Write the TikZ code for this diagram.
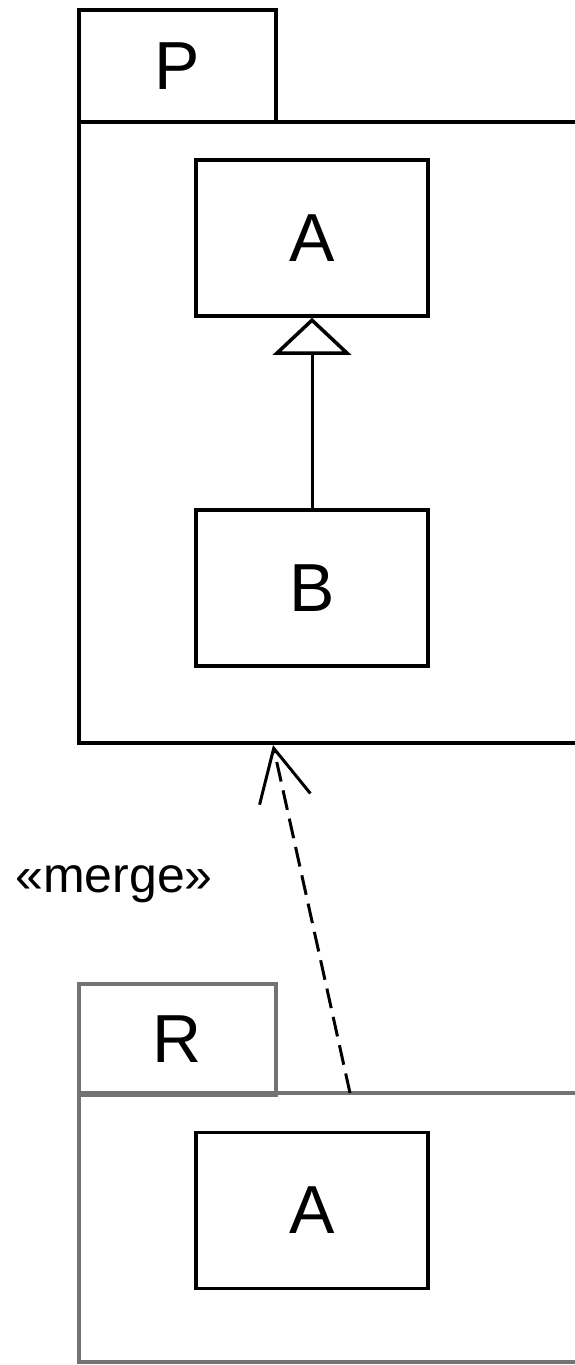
\documentclass[tikz,border=0pt]{standalone}
\usepackage{fontspec}
\setmainfont{Liberation Sans}
\usetikzlibrary{arrows.meta}
\begin{document}
\begin{tikzpicture}[x=1pt,y=-1pt,
  pkgblack/.style={draw=black,line width=3.5pt,rectangle,inner sep=0pt},
  pkggray/.style={draw=black!55,line width=4pt,rectangle,inner sep=0pt},
  cls/.style={draw=black,line width=3.5pt,rectangle,inner sep=0pt,minimum width=232pt,minimum height=156pt,font=\fontsize{68}{80}\selectfont},
  big/.style={font=\fontsize{68}{80}\selectfont},
  conn/.style={line width=3pt}]
\useasboundingbox (0,0) rectangle (575,1365);
\clip (0,0) rectangle (575,1365);
\fill[white] (0,0) rectangle (575,1365);
% package P
\node[pkgblack,big,minimum width=197pt,minimum height=112pt] (Ptab) at (177.5,66) {P};
\node[pkgblack,minimum width=521pt,minimum height=621pt] (Pbody) at (339.5,432.5) {};
\node[cls] (A1) at (312,238) {A};
\node[cls] (B) at (312,588) {B};
\draw[conn,-{Triangle[open,length=37pt,width=78pt,line width=3.5pt]}] (B.north) -- (A1.south);
% package R
\node[pkggray,big,minimum width=197pt,minimum height=111pt] (Rtab) at (177.5,1039) {R};
\node[pkggray,minimum width=521pt,minimum height=269pt] (Rbody) at (339.5,1227.5) {};
\node[cls] (A2) at (312,1210.5) {A};
% merge dependency
\coordinate (ms) at (350,1093);
\coordinate (me) at (273,745);
\draw[conn,dash pattern=on 20pt off 9pt,-{Straight Barb[length=52pt,width=52pt,line width=3pt]}] (ms) -- (me);
\node[font=\fontsize{50}{60}\selectfont] (mlabel) at (114,884) {«merge»};
\end{tikzpicture}
\end{document}
